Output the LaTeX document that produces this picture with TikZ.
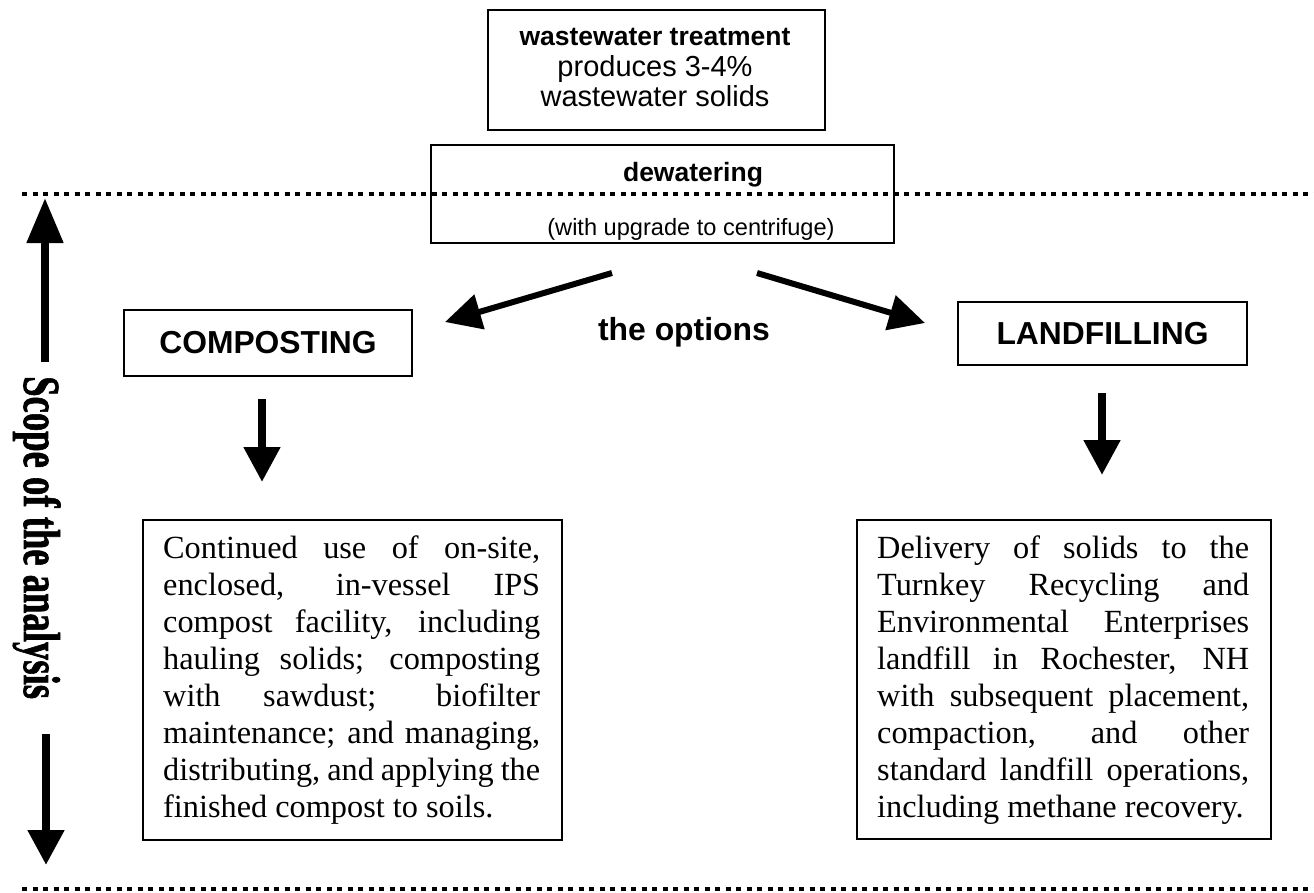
\documentclass[tikz,border=0pt]{standalone}
\usepackage{fontspec}
\usepackage{graphicx}
\setmainfont{Liberation Serif}
\newfontfamily\arialf{Liberation Sans}
\newfontfamily\scopef{Liberation Serif}[UprightFont=* Bold, FakeBold=1.5]
\usetikzlibrary{arrows.meta}
\newlength\dw
\newcommand{\jl}[1]{\makebox[\dw][s]{#1}\\}
\newcommand{\lastl}[1]{\makebox[\dw][l]{#1}}
\tikzset{
  box/.style={draw, line width=2pt, inner sep=0pt, anchor=north west},
  lbl/.style={inner sep=0pt, anchor=base},
  fat/.style={line width=8pt, -{Triangle[length=35pt,width=35pt]}},
  bigfat/.style={line width=8pt, -{Triangle[length=45pt,width=35pt]}},
  diag/.style={line width=6pt, -{Triangle[length=36pt,width=35pt]}},
  dots/.style={line width=4.5pt, dash pattern=on 5pt off 5.5pt},
}
\begin{document}
\begin{tikzpicture}[x=1pt,y=-1pt]
\useasboundingbox (0,0) rectangle (1314,892);
% dotted scope lines
\coordinate (d1a) at (22,194); \coordinate (d1b) at (1314,194);
\coordinate (d2a) at (22,889); \coordinate (d2b) at (1314,889);
% boxes
\node[box, minimum width=337pt, minimum height=120pt] (ww) at (487,9) {};
\node[box, minimum width=463pt, minimum height=98pt, fill=white] (dew) at (430,144) {};
\draw[dots] (d1a) -- (d1b);
\node[box, minimum width=288pt, minimum height=66pt] (comp) at (123,309) {};
\node[box, minimum width=289pt, minimum height=63pt] (land) at (957,301) {};
\node[box, minimum width=419pt, minimum height=320pt] (cdesc) at (142,519) {};
\node[box, minimum width=414pt, minimum height=319pt] (ldesc) at (856,519) {};
\draw[dots] (d2a) -- (d2b);
% texts
\node[lbl] (t1) at (655,45) {\arialf\bfseries\fontsize{26.5}{30}\selectfont wastewater treatment};
\node[lbl] (t2) at (655,76) {\arialf\fontsize{29}{30}\selectfont produces 3-4\%};
\node[lbl] (t3) at (655,106) {\arialf\fontsize{29}{30}\selectfont wastewater solids};
\node[lbl] (t4) at (693,181) {\arialf\bfseries\fontsize{26.5}{30}\selectfont dewatering};
\node[lbl] (t5) at (691,235) {\arialf\fontsize{23.6}{28}\selectfont (with upgrade to centrifuge)};
\node[lbl] (opt) at (684,340) {\arialf\bfseries\fontsize{31.9}{34}\selectfont the options};
\node[inner sep=0pt] (ct) at (comp.center) {\arialf\bfseries\fontsize{31.8}{34}\selectfont COMPOSTING};
\node[inner sep=0pt] (lt) at (land.center) {\arialf\bfseries\fontsize{31.8}{34}\selectfont LANDFILLING};
\node[inner sep=0pt, anchor=base west] (ctext) at (163,558) {\setlength\dw{377pt}\parbox[t]{\dw}{\fontsize{32.3}{37}\selectfont
\jl{Continued use of on-site,}
\jl{enclosed, in-vessel IPS}
\jl{compost facility, including}
\jl{hauling solids; composting}
\jl{with sawdust; biofilter}
\jl{maintenance; and managing,}
\jl{distributing, and applying the}
\lastl{finished compost to soils.}}};
\node[inner sep=0pt, anchor=base west] (ltext) at (877,558) {\setlength\dw{372pt}\parbox[t]{\dw}{\fontsize{32.3}{37}\selectfont
\jl{Delivery of solids to the}
\jl{Turnkey Recycling and}
\jl{Environmental Enterprises}
\jl{landfill in Rochester, NH}
\jl{with subsequent placement,}
\jl{compaction, and other}
\jl{standard landfill operations,}
\lastl{including methane recovery.}}};
\node[rotate=-90, anchor=base west, inner sep=0pt] (scope) at (24,376) {\scopef\fontsize{52}{52}\selectfont\scalebox{0.705}[1]{Scope of the analysis}};
% arrows
\coordinate (la0) at (612,273); \coordinate (la1) at (445,322);
\coordinate (ra0) at (757,273); \coordinate (ra1) at (925,323);
\coordinate (ca0) at (262,399); \coordinate (ca1) at (262,482);
\coordinate (lda0) at (1102,393); \coordinate (lda1) at (1102,475);
\coordinate (su0) at (45,362); \coordinate (su1) at (45,198);
\coordinate (sd0) at (46,734); \coordinate (sd1) at (46,865);
\draw[diag] (la0) -- (la1);
\draw[diag] (ra0) -- (ra1);
\draw[fat] (ca0) -- (ca1);
\draw[fat] (lda0) -- (lda1);
\draw[bigfat] (su0) -- (su1);
\draw[fat] (sd0) -- (sd1);
\end{tikzpicture}
\end{document}
